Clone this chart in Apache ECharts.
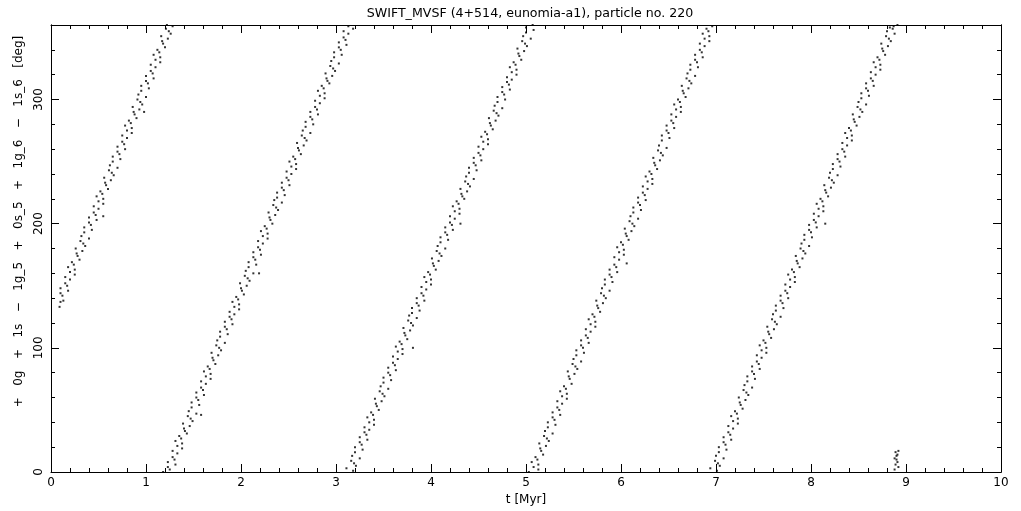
<!DOCTYPE html>
<html><head><meta charset="utf-8">
<script src="https://cdn.jsdelivr.net/npm/echarts@6/dist/echarts.min.js"></script>
<style>html,body{margin:0;padding:0;background:#fff}#c{width:1021px;height:511px}</style>
</head><body><div id="c"></div>
<script>
const titleText = 'SWIFT_MVSF (4+514, eunomia-a1), particle no. 220';
const xName = 't [Myr]';
const yName = '+   0g   +   1s   \u2212   1g_5   +   0s_5   +   1g_6   \u2212   1s_6   [deg]';
const xTicks = [0,1,2,3,4,5,6,7,8,9,10];
const yTicks = [0,100,200,300];

const band1 = [
[0.09,133],[0.10,137],[0.13,138],[0.12,142],[0.10,144],[0.18,146],[0.10,148],[0.17,150],[0.15,152],
[0.20,155],[0.15,157],[0.25,159],[0.20,161],[0.25,163],[0.18,165],[0.24,167],[0.22,169],[0.30,171],
[0.28,174],[0.27,176],[0.33,178],[0.26,180],[0.36,182],[0.34,184],[0.31,186],[0.40,188],[0.32,190],
[0.35,193],[0.43,195],[0.35,197],[0.42,199],[0.40,201],[0.48,203],[0.40,205],[0.47,207],[0.45,209],
[0.50,212],[0.45,214],[0.55,216],[0.50,218],[0.55,220],[0.48,222],[0.54,224],[0.52,226],[0.60,228],[0.55,206],
[0.58,231],[0.57,233],[0.63,235],[0.56,237],[0.66,239],[0.64,241],[0.61,243],[0.70,245],[0.62,247],
[0.65,250],[0.73,252],[0.65,254],[0.72,256],[0.70,258],[0.78,260],[0.70,262],[0.77,264],[0.75,266],
[0.80,269],[0.75,271],[0.85,273],[0.80,275],[0.85,277],[0.78,279],[0.84,281],[0.82,283],[0.90,285],
[0.88,288],[0.87,290],[0.93,292],[0.86,294],[0.96,296],[0.94,298],[0.91,300],[1.00,302],[0.92,304],[0.98,290],
[0.95,307],[1.03,309],[0.95,311],[1.02,313],[1.00,315],[1.08,317],[1.00,319],[1.07,321],[1.05,323],
[1.10,326],[1.05,328],[1.15,330],[1.10,332],[1.15,334],[1.08,336],[1.14,338],[1.12,340],[1.20,342],
[1.18,345],[1.17,347],[1.23,349],[1.16,351],[1.26,353],[1.24,355],[1.21,357],[1.28,359],[1.22,360]
];
const band2 = [
[1.18,0],[1.25,2],[1.23,4],[1.31,6],[1.23,8],[1.30,10],[1.28,12],
[1.33,15],[1.28,17],[1.38,19],[1.33,21],[1.38,23],[1.31,25],[1.37,27],[1.35,29],[1.43,31],
[1.41,33],[1.40,35],[1.46,37],[1.39,39],[1.49,41],[1.47,43],[1.44,45],[1.53,47],[1.45,49],[1.58,46],
[1.48,52],[1.56,54],[1.48,56],[1.55,58],[1.53,60],[1.61,62],[1.53,64],[1.60,66],[1.58,68],
[1.63,71],[1.58,73],[1.68,75],[1.63,77],[1.68,79],[1.61,81],[1.67,83],[1.65,85],[1.73,87],
[1.71,90],[1.70,92],[1.76,94],[1.69,96],[1.79,98],[1.77,100],[1.74,102],[1.83,104],[1.75,106],
[1.78,109],[1.86,111],[1.78,113],[1.85,115],[1.83,117],[1.91,119],[1.83,121],[1.90,123],[1.88,125],
[1.93,127],[1.88,129],[1.98,131],[1.93,133],[1.98,135],[1.91,137],[1.97,139],[1.95,141],[2.03,143],
[2.01,146],[2.00,148],[2.06,150],[1.99,152],[2.09,154],[2.07,156],[2.04,158],[2.13,160],[2.05,162],
[2.08,165],[2.16,167],[2.08,169],[2.15,171],[2.13,173],[2.21,175],[2.13,177],[2.20,179],[2.18,181],[2.19,160],
[2.23,184],[2.18,186],[2.28,188],[2.23,190],[2.28,192],[2.21,194],[2.27,196],[2.25,198],[2.33,200],
[2.31,203],[2.30,205],[2.36,207],[2.29,209],[2.39,211],[2.37,213],[2.34,215],[2.43,217],[2.35,219],
[2.38,221],[2.46,223],[2.38,225],[2.45,227],[2.43,229],[2.51,231],[2.43,233],[2.50,235],[2.48,237],
[2.53,240],[2.48,242],[2.58,244],[2.53,246],[2.58,248],[2.51,250],[2.57,252],[2.55,254],[2.63,256],
[2.61,259],[2.60,261],[2.66,263],[2.59,265],[2.69,267],[2.67,269],[2.64,271],[2.73,273],[2.65,275],
[2.68,278],[2.76,280],[2.68,282],[2.75,284],[2.73,286],[2.81,288],[2.73,290],[2.80,292],[2.78,294],
[2.83,297],[2.78,299],[2.88,301],[2.83,303],[2.88,305],[2.81,307],[2.87,309],[2.85,311],[2.93,313],
[2.91,315],[2.90,317],[2.96,319],[2.89,321],[2.99,323],[2.97,325],[2.94,327],[3.03,329],[2.95,331],
[2.98,334],[3.06,336],[2.98,338],[3.05,340],[3.03,342],[3.11,344],[3.03,346],[3.10,348],[3.08,350],
[3.13,353],[3.08,355],[3.18,357],[3.13,359]
];
const band3 = [
[3.18,1],[3.11,3],[3.21,5],[3.19,7],[3.16,9],[3.25,11],[3.17,13],
[3.20,16],[3.28,18],[3.20,20],[3.27,22],[3.25,24],[3.33,26],[3.25,28],[3.32,30],[3.30,32],
[3.35,34],[3.30,36],[3.40,38],[3.35,40],[3.40,42],[3.33,44],[3.39,46],[3.37,48],[3.45,50],
[3.43,53],[3.42,55],[3.48,57],[3.41,59],[3.51,61],[3.49,63],[3.46,65],[3.55,67],[3.47,69],
[3.50,72],[3.58,74],[3.50,76],[3.57,78],[3.55,80],[3.63,82],[3.55,84],[3.62,86],[3.60,88],
[3.65,91],[3.60,93],[3.70,95],[3.65,97],[3.70,99],[3.63,101],[3.69,103],[3.67,105],[3.75,107],
[3.73,110],[3.72,112],[3.78,114],[3.71,116],[3.81,118],[3.79,120],[3.76,122],[3.85,124],[3.77,126],[3.81,100],
[3.80,128],[3.88,130],[3.80,132],[3.87,134],[3.85,136],[3.93,138],[3.85,140],[3.92,142],[3.90,144],
[3.95,147],[3.90,149],[4.00,151],[3.95,153],[4.00,155],[3.93,157],[3.99,159],[3.97,161],[4.05,163],
[4.03,166],[4.02,168],[4.08,170],[4.01,172],[4.11,174],[4.09,176],[4.06,178],[4.15,180],[4.07,182],
[4.10,185],[4.18,187],[4.10,189],[4.17,191],[4.15,193],[4.23,195],[4.15,197],[4.22,199],[4.20,201],
[4.25,204],[4.20,206],[4.30,208],[4.25,210],[4.30,212],[4.23,214],[4.29,216],[4.27,218],[4.35,220],[4.31,200],
[4.33,222],[4.32,224],[4.38,226],[4.31,228],[4.41,230],[4.39,232],[4.36,234],[4.45,236],[4.37,238],
[4.40,241],[4.48,243],[4.40,245],[4.47,247],[4.45,249],[4.53,251],[4.45,253],[4.52,255],[4.50,257],
[4.55,260],[4.50,262],[4.60,264],[4.55,266],[4.60,268],[4.53,270],[4.59,272],[4.57,274],[4.65,276],
[4.63,279],[4.62,281],[4.68,283],[4.61,285],[4.71,287],[4.69,289],[4.66,291],[4.75,293],[4.67,295],
[4.70,298],[4.78,300],[4.70,302],[4.77,304],[4.75,306],[4.83,308],[4.75,310],[4.82,312],[4.80,314],
[4.85,316],[4.80,318],[4.90,320],[4.85,322],[4.90,324],[4.83,326],[4.89,328],[4.87,330],[4.95,332],
[4.93,335],[4.92,337],[4.98,339],[4.91,341],[5.01,343],[4.99,345],[4.96,347],[5.05,349],[4.97,351],
[5.00,354],[5.08,356],[5.00,358],[5.07,360]
];
const band4 = [
[5.03,0],[5.13,2],[5.08,4],[5.13,6],[5.06,8],[5.12,10],[5.10,12],[5.18,14],
[5.16,17],[5.15,19],[5.21,21],[5.14,23],[5.24,25],[5.22,27],[5.19,29],[5.28,31],[5.20,33],
[5.23,36],[5.31,38],[5.23,40],[5.30,42],[5.28,44],[5.36,46],[5.28,48],[5.35,50],[5.33,52],
[5.38,55],[5.33,57],[5.43,59],[5.38,61],[5.43,63],[5.36,65],[5.42,67],[5.40,69],[5.48,71],
[5.46,75],[5.45,77],[5.51,79],[5.44,81],[5.54,83],[5.52,85],[5.49,87],[5.58,89],[5.50,91],
[5.53,94],[5.61,96],[5.53,98],[5.60,100],[5.58,102],[5.66,104],[5.58,106],[5.65,108],[5.63,110],
[5.68,113],[5.63,115],[5.73,117],[5.68,119],[5.73,121],[5.66,123],[5.72,125],[5.70,127],[5.78,129],
[5.76,132],[5.75,134],[5.81,136],[5.74,138],[5.84,140],[5.82,142],[5.79,144],[5.88,146],[5.80,148],
[5.83,151],[5.91,153],[5.83,155],[5.90,157],[5.88,159],[5.96,161],[5.88,163],[5.95,165],[5.93,167],
[5.98,171],[5.93,173],[6.03,175],[5.98,177],[6.03,179],[5.96,181],[6.02,183],[6.00,185],[6.08,187],[6.06,168],
[6.06,190],[6.05,192],[6.11,194],[6.04,196],[6.14,198],[6.12,200],[6.09,202],[6.18,204],[6.10,206],
[6.13,209],[6.21,211],[6.13,213],[6.20,215],[6.18,217],[6.26,219],[6.18,221],[6.25,223],[6.23,225],
[6.28,228],[6.23,230],[6.33,232],[6.28,234],[6.33,236],[6.26,238],[6.32,240],[6.30,242],[6.38,244],
[6.36,247],[6.35,249],[6.41,251],[6.34,253],[6.44,255],[6.42,257],[6.39,259],[6.48,261],[6.40,263],
[6.43,267],[6.51,269],[6.43,271],[6.50,273],[6.48,275],[6.56,277],[6.48,279],[6.55,281],[6.53,283],
[6.58,286],[6.53,288],[6.63,290],[6.58,292],[6.63,294],[6.56,296],[6.62,298],[6.60,300],[6.68,302],
[6.66,305],[6.65,307],[6.71,309],[6.64,311],[6.74,313],[6.72,315],[6.69,317],[6.78,319],[6.70,321],
[6.73,324],[6.81,326],[6.73,328],[6.80,330],[6.78,332],[6.86,334],[6.78,336],[6.85,338],[6.83,340],
[6.88,343],[6.83,345],[6.93,347],[6.88,349],[6.93,351],[6.86,353],[6.92,355],[6.90,357],[6.96,359]
];
const band5 = [
[7.01,1],[6.94,3],[7.04,5],[7.02,7],[6.99,9],[7.08,11],[7.00,13],
[7.03,16],[7.11,18],[7.03,20],[7.10,22],[7.08,24],[7.16,26],[7.08,28],[7.15,30],[7.13,32],
[7.18,35],[7.13,37],[7.23,39],[7.18,41],[7.23,43],[7.16,45],[7.22,47],[7.20,49],[7.28,51],
[7.26,54],[7.25,56],[7.31,58],[7.24,60],[7.34,62],[7.32,64],[7.29,66],[7.38,68],[7.30,70],
[7.33,73],[7.41,75],[7.33,77],[7.40,79],[7.38,81],[7.46,83],[7.38,85],[7.45,87],[7.43,89],
[7.48,92],[7.43,94],[7.53,96],[7.48,98],[7.53,100],[7.46,102],[7.52,104],[7.50,106],[7.58,108],
[7.56,111],[7.55,113],[7.61,115],[7.54,117],[7.64,119],[7.62,121],[7.59,123],[7.68,125],[7.60,127],
[7.63,130],[7.71,132],[7.63,134],[7.70,136],[7.68,138],[7.76,140],[7.68,142],[7.75,144],[7.73,146],
[7.78,149],[7.73,151],[7.83,153],[7.78,155],[7.83,157],[7.76,159],[7.82,161],[7.80,163],[7.88,165],
[7.86,168],[7.85,170],[7.91,172],[7.84,174],[7.94,176],[7.92,178],[7.89,180],[7.98,182],[7.90,184],
[7.93,187],[8.01,189],[7.93,191],[8.00,193],[7.98,195],[8.06,197],[7.98,199],[8.05,201],[8.03,203],
[8.08,206],[8.03,208],[8.13,210],[8.08,212],[8.13,214],[8.06,216],[8.12,218],[8.10,220],[8.18,222],[8.15,200],
[8.16,225],[8.15,227],[8.21,229],[8.14,231],[8.24,233],[8.22,235],[8.19,237],[8.28,239],[8.20,241],
[8.23,244],[8.31,246],[8.23,248],[8.30,250],[8.28,252],[8.36,254],[8.28,256],[8.35,258],[8.33,260],
[8.38,263],[8.33,265],[8.43,267],[8.38,269],[8.43,271],[8.36,273],[8.42,275],[8.40,277],[8.48,279],
[8.46,282],[8.45,284],[8.51,286],[8.44,288],[8.54,290],[8.52,292],[8.49,294],[8.58,296],[8.50,298],
[8.53,301],[8.61,303],[8.53,305],[8.60,307],[8.58,309],[8.66,311],[8.58,313],[8.65,315],[8.63,317],
[8.68,320],[8.63,322],[8.73,324],[8.68,326],[8.73,328],[8.66,330],[8.72,332],[8.70,334],[8.78,336],
[8.76,339],[8.75,341],[8.81,343],[8.74,345],[8.84,347],[8.82,349],[8.79,351],[8.88,353],[8.80,355],
[8.83,358],[8.86,357],[8.87,359],[8.91,360]
];
const cluster = [[8.88,2],[8.89,6],[8.90,10],[8.91,14],[8.89,16],[8.92,4],[8.91,8],[8.90,13],[8.88,11],[8.92,17]];

const FONT = 'DejaVu Sans';
const black = '#000';
const chart = echarts.init(document.getElementById('c'), null, {renderer:'canvas'});
const dotSeries = (data) => ({type:'scatter', data, symbol:'rect', symbolSize:2,
  itemStyle:{color:black}, silent:true, animation:false, xAxisIndex:0, yAxisIndex:0});

function xAx(pos, labels) {
  return {type:'value', position:pos, min:0, max:10, interval:1,
    axisLine:{show:true, onZero:false, lineStyle:{color:black, width:1}},
    axisTick:{show:true, inside:true, length:8, lineStyle:{color:black}},
    minorTick:{show:true, splitNumber:5, length:4, lineStyle:{color:black}},
    splitLine:{show:false}, minorSplitLine:{show:false},
    axisLabel:{show:labels, color:black, fontFamily:FONT, fontSize:12, margin:5,
      formatter: v => xTicks.includes(v) ? String(v) : ''},
    name: labels ? xName : '', nameLocation:'middle', nameGap:22,
    nameTextStyle:{color:black, fontFamily:FONT, fontSize:12}};
}
function yAx(pos, interval, len, labels) {
  return {type:'value', position:pos, min:0, max:360, interval,
    axisLine:{show:true, onZero:false, lineStyle:{color:black, width:1}},
    axisTick:{show:true, inside:true, length:len, lineStyle:{color:black}},
    splitLine:{show:false},
    axisLabel:{show:labels, rotate:90, color:black, fontFamily:FONT, fontSize:12, margin:6,
      showMaxLabel:false, formatter: v => yTicks.includes(v) ? String(v) : ''},
    name: labels ? yName : '', nameLocation:'middle', nameGap:24,
    nameTextStyle:{color:black, fontFamily:FONT, fontSize:12, padding:[0,0,0,54]}};
}

chart.setOption({
  backgroundColor:'#fff',
  animation:false,
  title:{text:titleText, left:525, top:2, textAlign:'center',
    textStyle:{color:black, fontFamily:FONT, fontSize:12.6, fontWeight:'normal'}},
  grid:{left:51, right:20, top:25, bottom:37, containLabel:false},
  xAxis:[xAx('bottom', true), xAx('top', false)],
  yAxis:[yAx('left',100,8,true), yAx('left',20,4,false), yAx('right',100,8,false), yAx('right',20,4,false)],
  series:[dotSeries(band1), dotSeries(band2), dotSeries(band3), dotSeries(band4), dotSeries(band5), dotSeries(cluster)]
});
</script></body></html>
